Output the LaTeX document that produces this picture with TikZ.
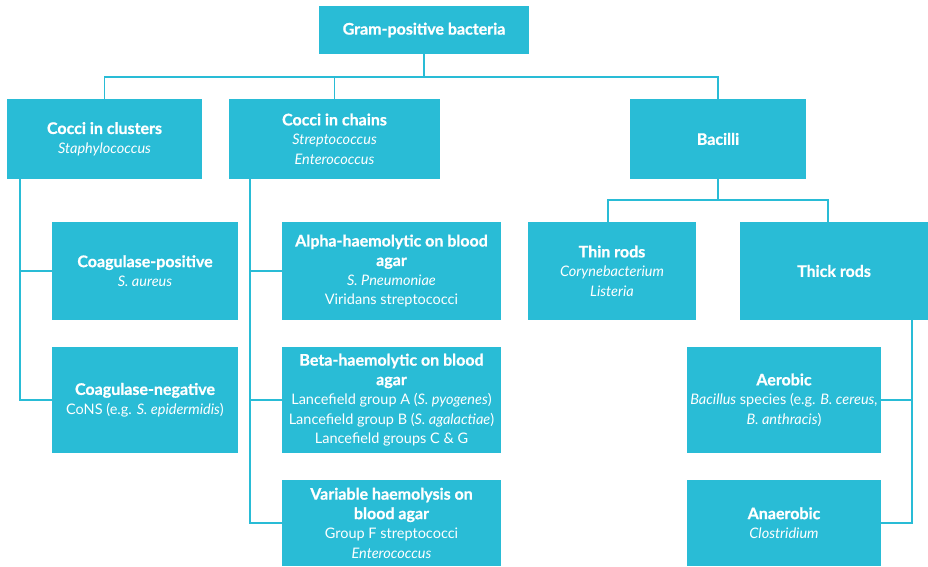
\documentclass[tikz,border=0pt]{standalone}
\usepackage{fontspec}
\setmainfont{Lato}[BoldFeatures={FakeBold=0.8}]
\definecolor{teal}{HTML}{29BCD6}
\tikzset{
  box/.style={fill=teal, draw=none, text=white, align=center, inner sep=2pt,
    font=\fontsize{14.5}{19.5}\selectfont},
  link/.style={draw=teal, line width=1.6pt}
}
\newcommand{\hd}[1]{{\bfseries\fontsize{16}{19.5}\selectfont #1}}
\begin{document}
\begin{tikzpicture}[x=1pt,y=-1pt]
\useasboundingbox (0,0) rectangle (928,566);
\node[box, minimum width=210, minimum height=48] (root) at (424,30) {\hd{Gram-positive bacteria}};
\node[box, minimum width=195, minimum height=80] (clusters) at (104.5,139) {\hd{Cocci in clusters}\\\textit{Staphylococcus}};
\node[box, minimum width=211, minimum height=80] (chains) at (334.5,139) {\hd{Cocci in chains}\\\textit{Streptococcus}\\\textit{Enterococcus}};
\node[box, minimum width=176, minimum height=80] (bacilli) at (718,139) {\hd{Bacilli}};
\node[box, minimum width=168, minimum height=98] (thin) at (612,271) {\hd{Thin rods}\\\textit{Corynebacterium}\\\textit{Listeria}};
\node[box, minimum width=188, minimum height=98] (thick) at (834,271) {\hd{Thick rods}};
\node[box, minimum width=186, minimum height=98] (cpos) at (145,271) {\hd{Coagulase-positive}\\\textit{S. aureus}};
\node[box, minimum width=186, minimum height=106] (cneg) at (145,400) {\hd{Coagulase-negative}\\CoNS (e.g. \textit{S. epidermidis})};
\node[box, minimum width=219, minimum height=98] (alpha) at (391.5,271) {\hd{Alpha-haemolytic on blood}\\\hd{agar}\\\textit{S. Pneumoniae}\\Viridans streptococci};
\node[box, minimum width=219, minimum height=106] (beta) at (391.5,400) {\hd{Beta-haemolytic on blood}\\\hd{agar}\\Lancefield group A (\textit{S. pyogenes})\\Lancefield group B (\textit{S. agalactiae})\\Lancefield groups C \& G};
\node[box, minimum width=219, minimum height=86] (var) at (391.5,523) {\hd{Variable haemolysis on}\\\hd{blood agar}\\Group F streptococci\\\textit{Enterococcus}};
\node[box, minimum width=194, minimum height=106] (aer) at (784,400) {\hd{Aerobic}\\\textit{Bacillus} species (e.g. \textit{B. cereus,}\\\textit{B. anthracis})};
\node[box, minimum width=194, minimum height=86] (anaer) at (784,523) {\hd{Anaerobic}\\\textit{Clostridium}};
% top level
\coordinate (bus) at (0,77);
\draw[link] (root.south) -- (root.south |- bus);
\draw[link] (clusters.north) |- (bacilli.north |- bus) -- (bacilli.north);
\draw[link] (chains.north) -- (chains.north |- bus);
% bacilli
\coordinate (bus2) at (0,200);
\draw[link] (bacilli.south) -- (bacilli.south |- bus2);
\draw[link] ([xshift=-4pt]thin.north) |- ([xshift=-6pt]thick.north |- bus2) -- ([xshift=-6pt]thick.north);
% clusters
\draw[link] ([xshift=13pt]clusters.south west) |- (cneg.west);
\draw[link] ([xshift=13pt]clusters.south west |- cpos.west) -- (cpos.west);
% chains
\draw[link] ([xshift=21pt]chains.south west) |- (var.west);
\draw[link] ([xshift=21pt]chains.south west |- alpha.west) -- (alpha.west);
\draw[link] ([xshift=21pt]chains.south west |- beta.west) -- (beta.west);
% thick rods
\draw[link] ([xshift=-16pt]thick.south east) |- (anaer.east);
\draw[link] ([xshift=-16pt]thick.south east |- aer.east) -- (aer.east);
\end{tikzpicture}
\end{document}
